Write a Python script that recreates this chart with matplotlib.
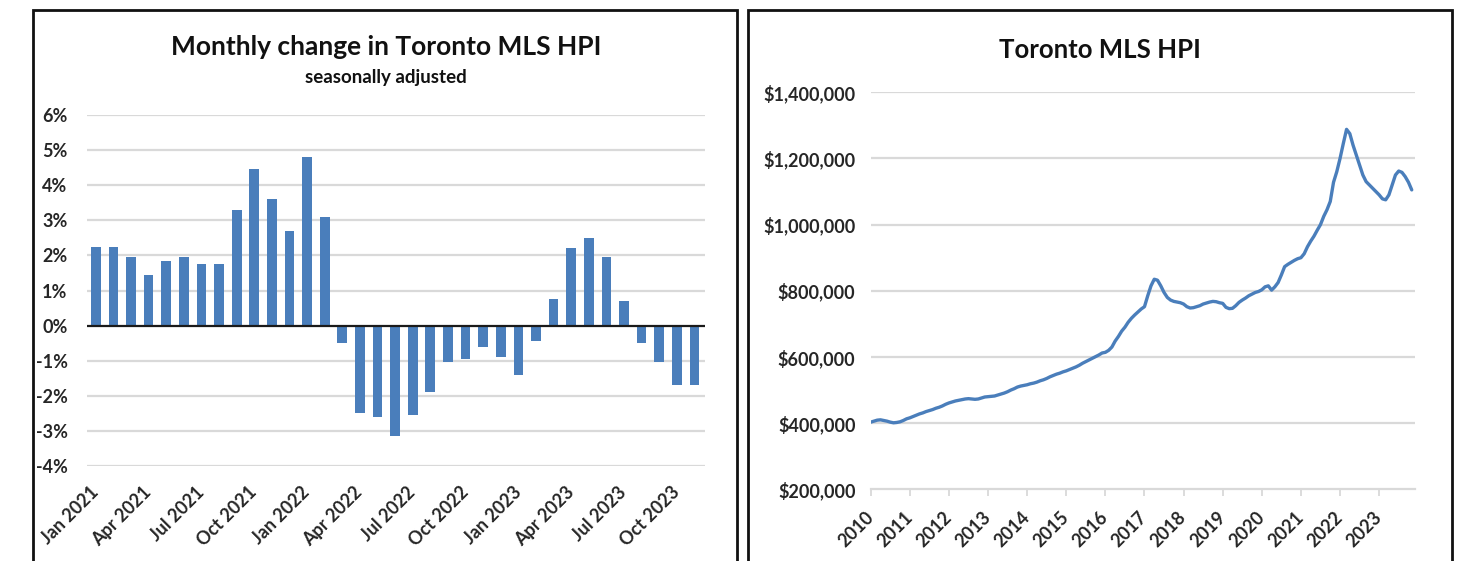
import matplotlib
matplotlib.use("Agg")
import matplotlib.pyplot as plt
from matplotlib.patches import Rectangle
from matplotlib.ticker import FuncFormatter

plt.rcParams['font.family'] = ['Lato', 'DejaVu Sans']

# ---------------- Data ----------------
# Left: monthly % change, Jan 2021 .. Nov 2023
months_left = ["Jan 2021", "Feb 2021", "Mar 2021", "Apr 2021", "May 2021", "Jun 2021",
               "Jul 2021", "Aug 2021", "Sep 2021", "Oct 2021", "Nov 2021", "Dec 2021",
               "Jan 2022", "Feb 2022", "Mar 2022", "Apr 2022", "May 2022", "Jun 2022",
               "Jul 2022", "Aug 2022", "Sep 2022", "Oct 2022", "Nov 2022", "Dec 2022",
               "Jan 2023", "Feb 2023", "Mar 2023", "Apr 2023", "May 2023", "Jun 2023",
               "Jul 2023", "Aug 2023", "Sep 2023", "Oct 2023", "Nov 2023"]
monthly_change = [2.25, 2.25, 1.95, 1.45, 1.85, 1.95, 1.75, 1.75, 3.3, 4.45, 3.6, 2.7,
                  4.8, 3.1, -0.5, -2.5, -2.6, -3.15, -2.55, -1.9, -1.05, -0.95, -0.6, -0.9,
                  -1.4, -0.45, 0.75, 2.2, 2.5, 1.95, 0.7, -0.5, -1.05, -1.7, -1.7]
left_tick_labels = ["Jan 2021", "Apr 2021", "Jul 2021", "Oct 2021", "Jan 2022", "Apr 2022",
                    "Jul 2022", "Oct 2022", "Jan 2023", "Apr 2023", "Jul 2023", "Oct 2023"]

# Right: Toronto MLS HPI (thousands of $), monthly Jan 2010 .. Nov 2023
hpi_2010 = [403, 406, 409, 410, 408, 406, 403, 401, 402, 404, 408, 413]
hpi_2011 = [416, 420, 424, 428, 431, 435, 438, 441, 445, 448, 452, 457]
hpi_2012 = [461, 464, 467, 469, 471, 473, 474, 473, 472, 473, 476, 479]
hpi_2013 = [480, 481, 482, 485, 488, 491, 495, 500, 504, 509, 512, 514]
hpi_2014 = [516, 519, 521, 524, 528, 531, 535, 540, 544, 548, 551, 555]
hpi_2015 = [558, 562, 566, 570, 575, 581, 586, 591, 596, 601, 606, 612]
hpi_2016 = [614, 620, 630, 648, 662, 678, 690, 705, 717, 727, 736, 745]
hpi_2017 = [752, 785, 815, 835, 832, 815, 795, 780, 772, 768, 766, 764]
hpi_2018 = [760, 752, 748, 749, 752, 755, 760, 763, 766, 768, 767, 764]
hpi_2019 = [762, 750, 746, 747, 755, 765, 772, 778, 785, 790, 795, 798]
hpi_2020 = [803, 812, 815, 802, 812, 825, 848, 873, 880, 886, 892, 897]
hpi_2021 = [900, 912, 933, 950, 965, 983, 1000, 1025, 1045, 1070, 1128, 1160]
hpi_2022 = [1200, 1245, 1288, 1275, 1240, 1210, 1180, 1150, 1130, 1120, 1110, 1100]
hpi_2023 = [1090, 1078, 1075, 1090, 1120, 1150, 1162, 1158, 1145, 1128, 1105]
years_right = ["2010", "2011", "2012", "2013", "2014", "2015", "2016",
               "2017", "2018", "2019", "2020", "2021", "2022", "2023"]

hpi = (hpi_2010 + hpi_2011 + hpi_2012 + hpi_2013 + hpi_2014 + hpi_2015 + hpi_2016 +
       hpi_2017 + hpi_2018 + hpi_2019 + hpi_2020 + hpi_2021 + hpi_2022 + hpi_2023)
hpi_values = [v * 1000 for v in hpi]

# ---------------- Figure ----------------
W, H = 1470, 561
fig = plt.figure(figsize=(W / 100, H / 100), dpi=100)
fig.patch.set_facecolor('white')

BLUE = '#4A7EBB'
GRID = '#D9D9D9'
TXT = '#262626'
TICK_FS = 13

def fx(px):
    return px / W

def fy(py):
    return 1 - py / H

# Panel borders
for (x0, x1) in [(33, 737), (748, 1452)]:
    fig.add_artist(Rectangle((fx(x0), fy(H + 20)), fx(x1) - fx(x0), fy(10) - fy(H + 20),
                             transform=fig.transFigure, fill=False, edgecolor='#111111',
                             linewidth=2.0))

# ---------------- Left chart ----------------
axL = fig.add_axes([fx(87), fy(466), fx(705) - fx(87), fy(115) - fy(466)])
xs = list(range(len(monthly_change)))
axL.bar(xs, monthly_change, width=0.55, color=BLUE, zorder=3)
axL.set_xlim(-0.5, 34.6)
axL.set_ylim(-4, 6)
axL.set_yticks(range(-4, 7))
axL.yaxis.set_major_formatter(FuncFormatter(lambda v, p: f"{int(v)}%"))
for y in range(-4, 7):
    if y != 0:
        axL.axhline(y, color=GRID, linewidth=1.6, zorder=1)
axL.axhline(0, color='#1a1a1a', linewidth=1.6, zorder=4)
tick_pos = [months_left.index(l) for l in left_tick_labels]
axL.set_xticks(tick_pos)
axL.set_xticklabels(left_tick_labels, rotation=45, ha='right', va='center',
                    rotation_mode='anchor')
for s in axL.spines.values():
    s.set_visible(False)
axL.tick_params(axis='both', length=0, colors=TXT)
axL.tick_params(axis='y', pad=14)
axL.tick_params(axis='x', pad=17)
for lab in axL.get_xticklabels() + axL.get_yticklabels():
    lab.set_fontweight('bold')
    lab.set_fontsize(TICK_FS)
    lab.set_color(TXT)

fig.text(fx(386), fy(47), "Monthly change in Toronto MLS HPI", ha='center', va='center',
         fontsize=19, fontweight='bold', color='#111111')
fig.text(fx(386), fy(77), "seasonally adjusted", ha='center', va='center',
         fontsize=13.5, fontweight='bold', color='#111111')

# ---------------- Right chart ----------------
axR = fig.add_axes([fx(870.7), fy(489.3), fx(1415) - fx(870.7), fy(92.3) - fy(489.3)])
xm = list(range(len(hpi_values)))
axR.plot(xm, hpi_values, color=BLUE, linewidth=2.4, zorder=3, solid_capstyle='round')
axR.set_xlim(0, 167)
axR.set_ylim(200000, 1400000)
yt = list(range(200000, 1400001, 200000))
axR.set_yticks(yt)
axR.yaxis.set_major_formatter(FuncFormatter(lambda v, p: f"${int(v):,}"))
for y in yt[1:]:
    axR.axhline(y, color=GRID, linewidth=1.6, zorder=1)
for k in ['top', 'right', 'left']:
    axR.spines[k].set_visible(False)
axR.spines['bottom'].set_color(GRID)
axR.spines['bottom'].set_linewidth(1.6)
axR.set_xticks([12 * i for i in range(len(years_right))])
axR.set_xticklabels(years_right, rotation=45, ha='right', va='center',
                    rotation_mode='anchor')
axR.tick_params(axis='y', length=0, pad=11, colors=TXT)
axR.tick_params(axis='x', length=5, width=1.3, color=GRID, pad=13, labelcolor=TXT)
for lab in axR.get_xticklabels() + axR.get_yticklabels():
    lab.set_fontweight('bold')
    lab.set_fontsize(TICK_FS)
    lab.set_color(TXT)

fig.text(fx(1100), fy(50), "Toronto MLS HPI", ha='center', va='center',
         fontsize=18.5, fontweight='bold', color='#111111')

fig.savefig("out.png", dpi=100, facecolor='white')
